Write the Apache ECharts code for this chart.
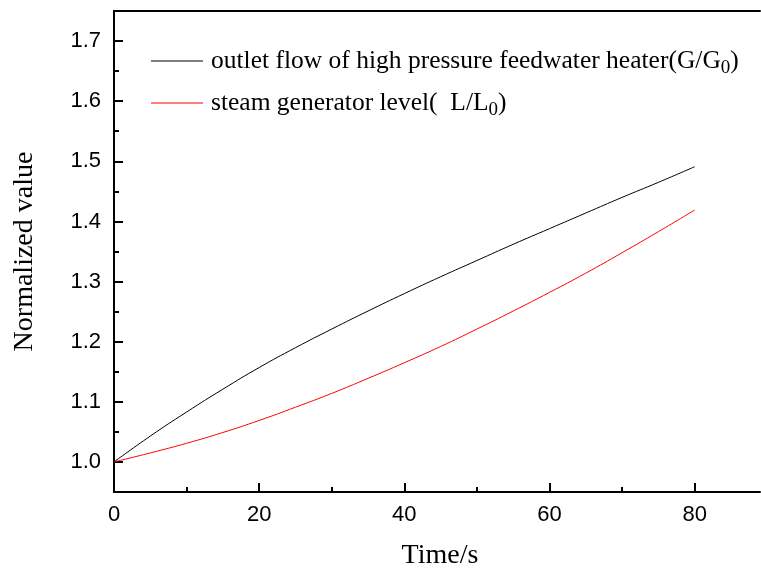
<!DOCTYPE html>
<html><head><meta charset="utf-8">
<script src="https://cdn.jsdelivr.net/npm/echarts@6/dist/echarts.min.js"></script>
<style>html,body{margin:0;padding:0;background:#fff}#c{width:761px;height:570px}</style>
</head><body><div id="c"></div>
<script>
const times = [0,5,10,15,20,25,30,35,40,45,50,55,60,65,70,75,80];
const flowValues = [1.000,1.043,1.083,1.121,1.157,1.190,1.221,1.251,1.280,1.308,1.335,1.362,1.388,1.414,1.440,1.465,1.491];
const levelValues = [1.000,1.015,1.031,1.049,1.069,1.091,1.114,1.139,1.165,1.192,1.221,1.251,1.282,1.314,1.348,1.383,1.419];
const xTicks = [0,20,40,60,80];
const xMinorTicks = [10,30,50,70];
const yTicks = [1.0,1.1,1.2,1.3,1.4,1.5,1.6,1.7];
const yMinorTicks = [1.05,1.15,1.25,1.35,1.45,1.55,1.65];
const seriesNames = ['outlet flow of high pressure feedwater heater(G/G0)','steam generator level(  L/L0)'];
const legendRich = ['outlet flow of high pressure feedwater heater(G/G{s|0}{t|)}','steam generator level(  L/L{s|0}{t|)}'];

const chart = echarts.init(document.getElementById('c'));
const serif = '"Liberation Serif","Times New Roman",serif';
const sans = '"Liberation Sans",Arial,sans-serif';
const rich = {s:{fontFamily:serif,fontSize:19,color:'#000',padding:[14,0,0,0]},t:{fontFamily:serif,fontSize:25.5,color:'#000'}};
function legendCfg(i, top){
  return {data:[seriesNames[i]], left:151, top:top, padding:0, icon:'rect', itemWidth:52, itemHeight:1, itemGap:0,
    textStyle:{fontFamily:serif,fontSize:25.5,color:'#000',padding:[0,0,0,3],rich:rich},
    formatter:()=>legendRich[i], selectedMode:false};
}
const axisBlack = {color:'#000',width:2};
chart.setOption({
  animation:false,
  grid:{left:114,top:11,right:1,bottom:78,containLabel:false,outerBoundsMode:'none'},
  legend:[legendCfg(0,48), legendCfg(1,90)],
  xAxis:[
   {type:'value',min:0,max:89,position:'bottom',
    name:'Time/s',nameLocation:'middle',nameGap:50,
    nameTextStyle:{fontFamily:serif,fontSize:28,color:'#000',padding:[0,0,0,6]},
    axisLine:{onZero:false,lineStyle:axisBlack},
    axisTick:{inside:true,length:9,lineStyle:axisBlack,customValues:xTicks},
    axisLabel:{fontFamily:sans,fontSize:22,color:'#000',margin:12,customValues:xTicks},
    splitLine:{show:false}},
   {type:'value',min:0,max:89,position:'bottom',gridIndex:0,
    axisLine:{show:false,onZero:false},
    axisTick:{show:true,inside:true,length:5,lineStyle:axisBlack,customValues:xMinorTicks},
    axisLabel:{show:false},splitLine:{show:false}},
   {type:'value',min:0,max:89,position:'top',
    axisLine:{show:true,onZero:false,lineStyle:axisBlack},
    axisTick:{show:false},axisLabel:{show:false},splitLine:{show:false}}],
  yAxis:[
   {type:'value',min:0.95,max:1.75,position:'left',
    name:'Normalized value',nameLocation:'middle',nameGap:75,
    nameTextStyle:{fontFamily:serif,fontSize:28,color:'#000'},
    axisLine:{onZero:false,lineStyle:axisBlack},
    axisTick:{inside:true,length:9,lineStyle:axisBlack,customValues:yTicks},
    axisLabel:{fontFamily:sans,fontSize:22,color:'#000',margin:13,customValues:yTicks,formatter:v=>v.toFixed(1)},
    splitLine:{show:false}},
   {type:'value',min:0.95,max:1.75,position:'left',
    axisLine:{show:false,onZero:false},
    axisTick:{show:true,inside:true,length:5,lineStyle:axisBlack,customValues:yMinorTicks},
    axisLabel:{show:false},splitLine:{show:false}}],
  series:[
    {name:seriesNames[0],type:'line',data:times.map((t,i)=>[t,flowValues[i]]),smooth:true,showSymbol:false,
     lineStyle:{color:'#000',width:1},itemStyle:{color:'#000'}},
    {name:seriesNames[1],type:'line',data:times.map((t,i)=>[t,levelValues[i]]),smooth:true,showSymbol:false,
     lineStyle:{color:'#ff0000',width:1},itemStyle:{color:'#ff0000'}}
  ]
});
</script></body></html>
